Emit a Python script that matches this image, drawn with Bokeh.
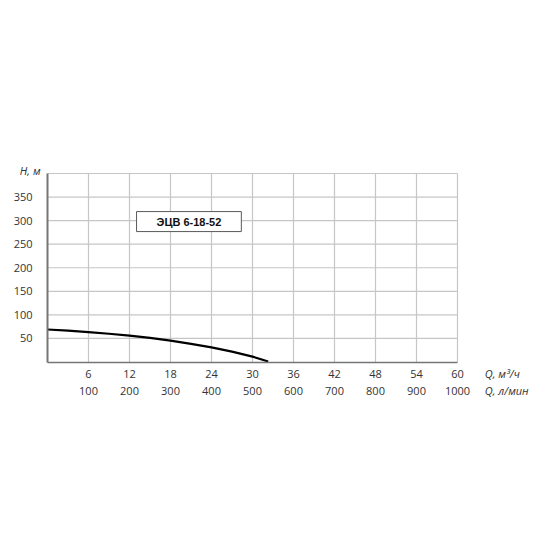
"""Pump performance curve, ЭЦВ 6-18-52."""
from bokeh.embed import file_html
from bokeh.models import FixedTicker, Label, LinearAxis, Range1d
from bokeh.plotting import figure
from bokeh.resources import INLINE

# Flow, m3/h and head, m
q_m3h = [0, 3, 6, 9, 12, 15, 18, 21, 24, 27, 30, 32.3]
head_m = [69, 66.5, 63.5, 60, 56, 51, 45.5, 38.5, 31, 22, 11.5, 1]

# Axis ticks
q_ticks = [6, 12, 18, 24, 30, 36, 42, 48, 54, 60]
lmin_labels = ["100", "200", "300", "400", "500", "600", "700", "800", "900", "1000"]
h_ticks = [50, 100, 150, 200, 250, 300, 350]
q_max, h_max = 60, 400

model_name = "ЭЦВ 6-18-52"

FONT = "Open Sans"
GRID = "#c6c6c6"
AXIS = "#767676"
TEXT = "#333333"

# The frame covers the whole canvas; the chart box (0..60, 0..400) sits
# at 47..457 px across and 173..361.5 px down.
W = H = 540
sx = (457 - 47) / q_max
sy = (361.5 - 173) / h_max
x0 = -47 / sx
y1 = h_max + 173 / sy

p = figure(
    width=W,
    height=H,
    x_range=Range1d(x0, x0 + W / sx),
    y_range=Range1d(y1 - H / sy, y1),
    x_axis_location=None,
    y_axis_location=None,
    output_backend="svg",
    toolbar_location=None,
    min_border=0,
)
p.outline_line_color = None
p.xgrid.visible = False
p.ygrid.visible = False

# grid and outer box
p.segment(x0=q_ticks, y0=0, x1=q_ticks, y1=h_max, line_color=GRID, line_width=1.2)
p.segment(x0=0, y0=h_ticks + [h_max], x1=q_max, y1=h_ticks + [h_max],
          line_color=GRID, line_width=1.2)


def style_axis(ax, standoff):
    ax.fixed_location = 0
    ax.major_tick_line_color = None
    ax.minor_tick_line_color = None
    ax.major_label_standoff = standoff
    ax.major_label_text_font = FONT
    ax.major_label_text_font_size = "11px"
    ax.major_label_text_color = TEXT


left = LinearAxis(ticker=FixedTicker(ticks=h_ticks), bounds=(0, h_max))
style_axis(left, 9)
left.axis_line_color = AXIS
left.axis_line_width = 2
p.add_layout(left, "left")

bottom_q = LinearAxis(ticker=FixedTicker(ticks=q_ticks), bounds=(0, q_max))
style_axis(bottom_q, 2)
bottom_q.axis_line_color = AXIS
bottom_q.axis_line_width = 1.6
p.add_layout(bottom_q, "below")

bottom_l = LinearAxis(
    ticker=FixedTicker(ticks=q_ticks),
    bounds=(0, q_max),
    major_label_overrides={t: s for t, s in zip(q_ticks, lmin_labels)},
)
style_axis(bottom_l, 19)
bottom_l.axis_line_color = None
p.add_layout(bottom_l, "below")

p.line(q_m3h, head_m, line_color="black", line_width=2.2)

# axis captions
label_style = dict(
    text_font=FONT,
    text_font_size="11px",
    text_font_style="italic",
    text_color=TEXT,
    text_baseline="middle",
)
p.add_layout(Label(x=0, y=406, x_offset=-7, text="H, м", text_align="right", **label_style))
p.add_layout(Label(x=64, y=-24, text="Q, м³/ч", **label_style))
p.add_layout(Label(x=64, y=-60.5, text="Q, л/мин", **label_style))

# model name box
p.add_layout(
    Label(
        x=20.7, y=298,
        text=model_name,
        text_font="Liberation Sans",
        text_font_size="11px",
        text_font_style="bold",
        text_color="#111111",
        text_align="center",
        text_baseline="middle",
        background_fill_color="white",
        border_line_color="#5a5a5a",
        border_line_width=1,
        padding=(20, 20, 4, 4),
    )
)

open("out.html", "w").write(file_html(p, INLINE))
